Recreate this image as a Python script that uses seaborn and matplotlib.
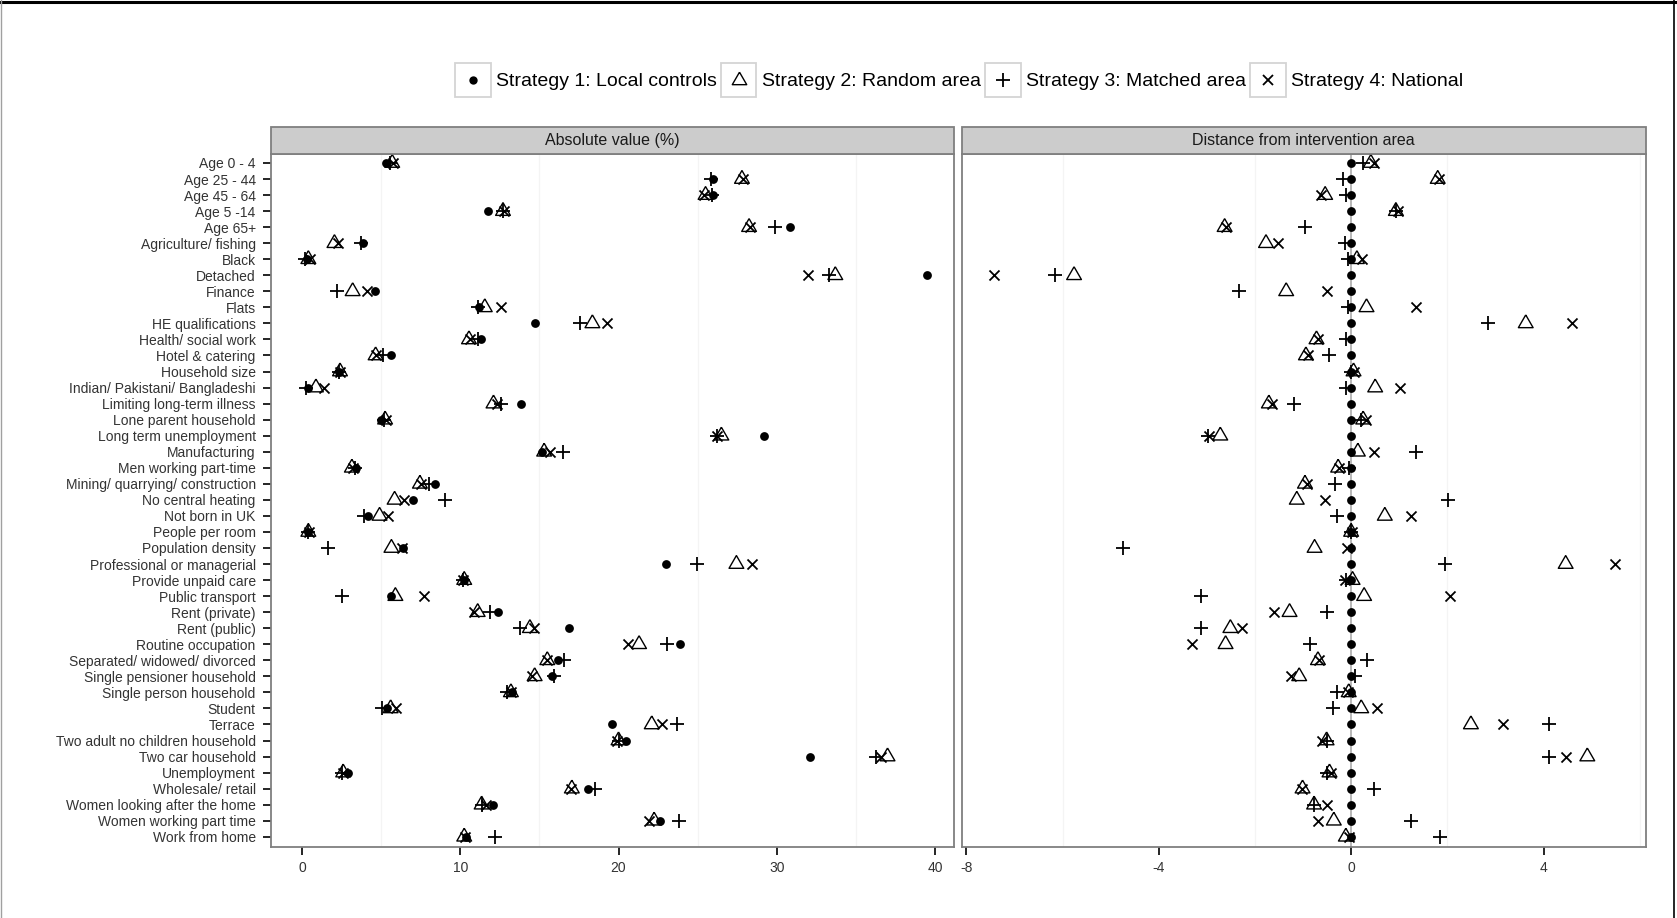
import matplotlib
matplotlib.use("Agg")
import numpy as np
import pandas as pd
import matplotlib.pyplot as plt
import seaborn as sns
from matplotlib.lines import Line2D
from matplotlib.patches import Rectangle
from matplotlib.legend_handler import HandlerBase

# ---------------------------------------------------------------- data
variables = [
    "Age 0 - 4", "Age 25 - 44", "Age 45 - 64", "Age 5 -14", "Age 65+",
    "Agriculture/ fishing", "Black", "Detached", "Finance", "Flats",
    "HE qualifications", "Health/ social work", "Hotel & catering",
    "Household size", "Indian/ Pakistani/ Bangladeshi",
    "Limiting long-term illness", "Lone parent household",
    "Long term unemployment", "Manufacturing", "Men working part-time",
    "Mining/ quarrying/ construction", "No central heating",
    "Not born in UK", "People per room", "Population density",
    "Professional or managerial", "Provide unpaid care", "Public transport",
    "Rent (private)", "Rent (public)", "Routine occupation",
    "Separated/ widowed/ divorced", "Single pensioner household",
    "Single person household", "Student", "Terrace",
    "Two adult no children household", "Two car household", "Unemployment",
    "Wholesale/ retail", "Women looking after the home",
    "Women working part time", "Work from home",
]

strategies = [
    "Strategy 1: Local controls",
    "Strategy 2: Random area",
    "Strategy 3: Matched area",
    "Strategy 4: National",
]

panels = ["Absolute value (%)", "Distance from intervention area"]

# Absolute value (%)
abs_local = [5.3, 26.0, 26.0, 11.75, 30.85, 3.85, 0.3, 39.5, 4.6, 11.2,
             14.75, 11.3, 5.6, 2.35, 0.37, 13.85, 5.0, 29.2, 15.15, 3.4,
             8.4, 7.0, 4.2, 0.4, 6.4, 23.0, 10.25, 5.6, 12.4, 16.9,
             23.9, 16.2, 15.8, 13.25, 5.4, 19.6, 20.5, 32.1, 2.9, 18.05,
             12.1, 22.6, 10.35]
abs_random = [5.7, 27.8, 25.5, 12.7, 28.25, 2.05, 0.4, 33.7, 3.2, 11.55,
              18.35, 10.55, 4.65, 2.4, 0.88, 12.1, 5.25, 26.5, 15.3, 3.15,
              7.45, 5.85, 4.9, 0.4, 5.65, 27.45, 10.25, 5.9, 11.1, 14.4,
              21.3, 15.5, 14.7, 13.2, 5.6, 22.1, 20.0, 37.0, 2.6, 17.05,
              11.35, 22.25, 10.25]
abs_matched = [5.55, 25.85, 25.9, 12.7, 29.9, 3.7, 0.2, 33.3, 2.2, 11.15,
               17.55, 11.15, 5.1, 2.35, 0.25, 12.6, 5.2, 26.2, 16.5, 3.35,
               8.05, 9.05, 3.9, 0.4, 1.65, 24.95, 10.15, 2.5, 11.85, 13.8,
               23.05, 16.55, 15.9, 12.95, 5.05, 23.7, 20.0, 36.25, 2.5, 18.5,
               11.4, 23.85, 12.2]
abs_national = [5.75, 27.85, 25.4, 12.75, 28.3, 2.3, 0.5, 32.0, 4.1, 12.55,
                19.3, 10.6, 4.7, 2.4, 1.42, 12.3, 5.3, 26.25, 15.65, 3.2,
                7.5, 6.45, 5.45, 0.45, 6.3, 28.45, 10.15, 7.7, 10.85, 14.65,
                20.6, 15.5, 14.55, 13.2, 5.95, 22.75, 19.9, 36.6, 2.6, 17.0,
                11.65, 21.95, 10.3]

# Distance from intervention area
dist_local = [0.0, 0.0, 0.0, 0.0, 0.0, 0.0, 0.0, 0.0, 0.0, 0.0,
              0.0, 0.0, 0.0, 0.0, 0.0, 0.0, 0.0, 0.0, 0.0, 0.0,
              0.0, 0.0, 0.0, 0.0, 0.0, 0.0, 0.0, 0.0, 0.0, 0.0,
              0.0, 0.0, 0.0, 0.0, 0.0, 0.0, 0.0, 0.0, 0.0, 0.0,
              0.0, 0.0, 0.0]
dist_random = [0.41, 1.8, -0.54, 0.93, -2.63, -1.77, 0.12, -5.76, -1.35, 0.32,
               3.63, -0.72, -0.94, 0.05, 0.5, -1.71, 0.25, -2.72, 0.14, -0.27,
               -0.96, -1.13, 0.7, 0.0, -0.76, 4.46, 0.03, 0.27, -1.28, -2.51,
               -2.61, -0.69, -1.08, -0.05, 0.21, 2.49, -0.51, 4.91, -0.45, -1.01,
               -0.77, -0.36, -0.11]
dist_matched = [0.25, -0.17, -0.11, 0.93, -0.95, -0.13, -0.06, -6.16, -2.34, -0.06,
                2.85, -0.1, -0.47, 0.0, -0.1, -1.19, 0.2, -2.97, 1.35, -0.04,
                -0.33, 2.01, -0.29, 0.0, -4.74, 1.95, -0.1, -3.13, -0.51, -3.13,
                -0.85, 0.32, 0.09, -0.29, -0.38, 4.11, -0.51, 4.11, -0.51, 0.48,
                -0.78, 1.24, 1.85]
dist_national = [0.48, 1.82, -0.63, 0.98, -2.6, -1.53, 0.23, -7.42, -0.5, 1.35,
                 4.6, -0.68, -0.9, 0.06, 1.02, -1.65, 0.3, -2.95, 0.48, -0.25,
                 -0.92, -0.54, 1.24, 0.02, -0.09, 5.48, -0.12, 2.05, -1.6, -2.27,
                 -3.31, -0.67, -1.26, -0.06, 0.54, 3.15, -0.6, 4.47, -0.42, -1.03,
                 -0.5, -0.69, -0.04]

series = {
    panels[0]: [abs_local, abs_random, abs_matched, abs_national],
    panels[1]: [dist_local, dist_random, dist_matched, dist_national],
}

frames = []
for panel, cols in series.items():
    for strat, vals in zip(strategies, cols):
        frames.append(pd.DataFrame({"variable": variables, "strategy": strat,
                                    "panel": panel, "value": vals}))
df = pd.concat(frames, ignore_index=True)

# ---------------------------------------------------------------- style
sns.set_theme(style="white")
plt.rcParams["font.family"] = ["Liberation Sans", "DejaVu Sans"]
plt.rcParams["axes.unicode_minus"] = False

# equilateral triangle outline (open triangle)
tri = [(0.0, 0.577), (-0.5, -0.289), (0.5, -0.289), (0.0, 0.577)]

point_kw = {
    strategies[0]: dict(marker="o", s=40, color="black", linewidth=0),
    strategies[1]: dict(marker=tri, s=150, facecolors="none",
                        edgecolors="black", linewidth=1.0),
    strategies[2]: dict(marker="+", s=100, color="black", linewidth=1.3),
    strategies[3]: dict(marker="x", s=52, color="black", linewidth=1.3),
}
legend_kw = {
    strategies[0]: dict(marker="o", ms=6.0, mfc="black", mec="black", mew=0),
    strategies[1]: dict(marker=tri, ms=12.0, mfc="none", mec="black", mew=1.0),
    strategies[2]: dict(marker="+", ms=10.0, mfc="black", mec="black", mew=1.3),
    strategies[3]: dict(marker="x", ms=7.2, mfc="black", mec="black", mew=1.3),
}

W, H = 1677, 918
fig = plt.figure(figsize=(W / 100, H / 100), dpi=100)
fig.patch.set_facecolor("white")

panel_bottom = 1 - 846.7 / H
panel_height = (846.7 - 154.0) / H
ax_left = fig.add_axes([271 / W, panel_bottom, (954 - 271) / W, panel_height])
ax_right = fig.add_axes([961.5 / W, panel_bottom, (1646 - 961.5) / W, panel_height])

xlims = {panels[0]: (-1.96, 41.2), panels[1]: (-8.1, 6.13)}
xmajor = {panels[0]: [0, 10, 20, 30, 40], panels[1]: [-8, -4, 0, 4]}
xminor = {panels[0]: [5, 15, 25, 35], panels[1]: [-6, -2, 2, 6]}

strip_h = (154.0 - 126.7) / (846.7 - 154.0)
text_col = "#333333"
frame_col = "#7f7f7f"

for ax, panel in zip([ax_left, ax_right], panels):
    sub = df[df["panel"] == panel]
    if panel == panels[1]:
        ax.axvline(0, color="#b8b8b8", lw=1.4, zorder=0.5)
    for strat in strategies:
        d = sub[sub["strategy"] == strat]
        sns.scatterplot(data=d, x="value", y="variable", ax=ax, legend=False,
                        zorder=3, **point_kw[strat])

    ax.set_xlim(*xlims[panel])
    ax.set_ylim(len(variables) - 1 + 0.62, -0.56)
    ax.set_xticks(xmajor[panel])
    ax.set_xticklabels([str(v) for v in xmajor[panel]])
    ax.set_xticks(xminor[panel], minor=True)
    ax.grid(False)
    ax.grid(True, which="minor", axis="x", color="#f4f4f4", lw=0.9)
    ax.set_axisbelow(True)
    ax.set_xlabel("")
    ax.set_ylabel("")
    ax.set_facecolor("white")
    for sp in ax.spines.values():
        sp.set_color(frame_col)
        sp.set_linewidth(1.3)
    ax.tick_params(axis="x", which="major", direction="out", length=6,
                   width=1.2, color="black", labelsize=10, labelcolor=text_col,
                   pad=4.5, bottom=True)
    ax.tick_params(axis="x", which="minor", length=0)

    # facet strip
    ax.add_patch(Rectangle((0, 1), 1, strip_h, transform=ax.transAxes,
                           facecolor="#cccccc", edgecolor=frame_col, lw=1.3,
                           clip_on=False, zorder=5))
    ax.text(0.5, 1 + strip_h / 2, panel, transform=ax.transAxes,
            ha="center", va="center", fontsize=11.5, color="#1a1a1a",
            zorder=6)

ax_left.tick_params(axis="y", direction="out", length=6, width=1.2,
                    color="black", labelsize=10, labelcolor=text_col, pad=5,
                    left=True)
ax_right.tick_params(axis="y", left=False, labelleft=False)


# ---------------------------------------------------------------- legend
class BoxedKey(HandlerBase):
    def create_artists(self, legend, orig_handle, xdescent, ydescent,
                       width, height, fontsize, trans):
        box = Rectangle((-xdescent, -ydescent), width, height,
                        facecolor="white", edgecolor="#d4d4d4", lw=1.3,
                        transform=trans)
        mk = Line2D([-xdescent + width / 2], [-ydescent + height / 2],
                    linestyle="none", transform=trans,
                    marker=orig_handle.get_marker(),
                    markersize=orig_handle.get_markersize(),
                    markerfacecolor=orig_handle.get_markerfacecolor(),
                    markeredgecolor=orig_handle.get_markeredgecolor(),
                    markeredgewidth=orig_handle.get_markeredgewidth())
        return [box, mk]


handles = [Line2D([], [], linestyle="none", **legend_kw[s]) for s in strategies]
fig.legend(handles, strategies, handler_map={Line2D: BoxedKey()},
           loc="center", bbox_to_anchor=(959 / W, 1 - 80 / H), ncol=4,
           frameon=False, fontsize=14, handlelength=1.83, handleheight=2.35,
           handletextpad=0.27, columnspacing=0.22, borderpad=0,
           borderaxespad=0, labelcolor="black")

# figure frame
fig.add_artist(Line2D([0, 1], [1 - 1.5 / H, 1 - 1.5 / H], transform=fig.transFigure,
                      color="black", lw=2.2))
fig.add_artist(Line2D([0.6 / W, 0.6 / W], [0, 1], transform=fig.transFigure,
                      color="#a0a0a0", lw=1.0))
fig.add_artist(Line2D([1674 / W, 1674 / W], [0, 1], transform=fig.transFigure,
                      color="black", lw=1.2))

fig.savefig("out.png", dpi=100, facecolor="white")
